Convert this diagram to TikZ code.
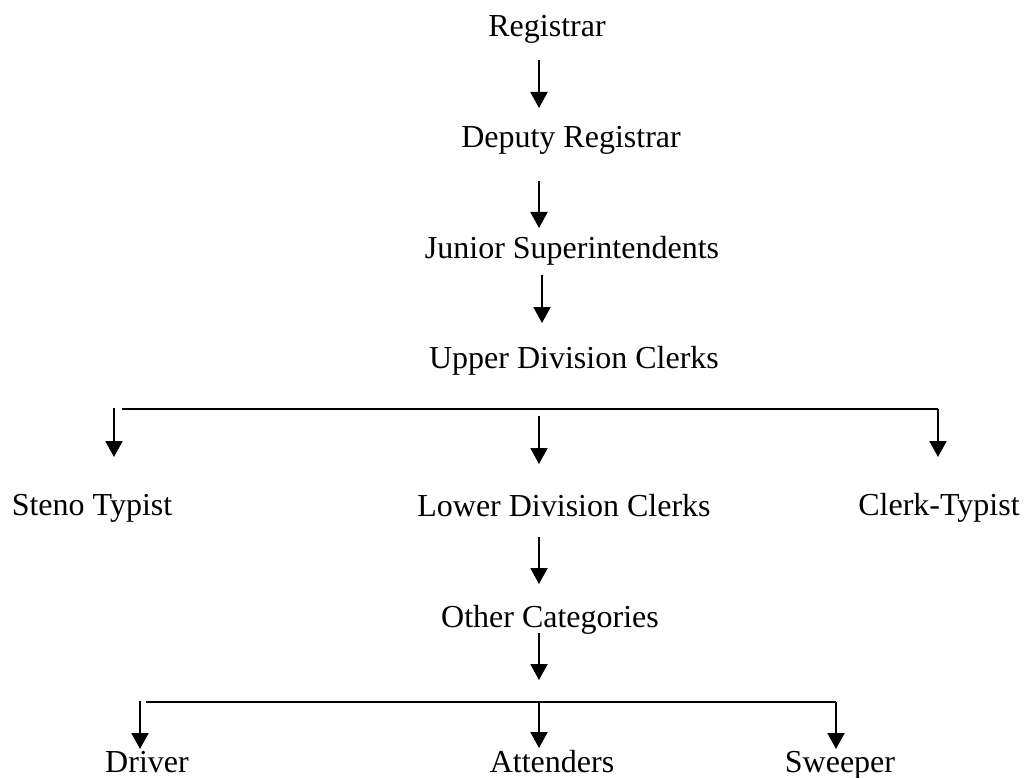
\documentclass[tikz,border=0pt]{standalone}
\usepackage{fontspec}
\setmainfont{Liberation Serif}
\usetikzlibrary{arrows.meta}
\tikzset{
  lbl/.style={anchor=base, inner sep=0pt, font=\fontsize{32}{38}\selectfont},
  arr/.style={line width=2pt, -{Triangle[width=17pt,length=16pt]}},
  bar/.style={line width=1.1pt},
}
\begin{document}
\begin{tikzpicture}[x=1pt,y=-1pt]
\useasboundingbox (0,0) rectangle (1025,778);
% labels
\node[lbl] (reg) at (547,37) {Registrar};
\node[lbl] (dep) at (571,148) {Deputy Registrar};
\node[lbl] (jun) at (572,258) {Junior Superintendents};
\node[lbl] (udc) at (574,368) {Upper Division Clerks};
\node[lbl] (ste) at (92,515) {Steno Typist};
\node[lbl] (ldc) at (564,516) {Lower Division Clerks};
\node[lbl] (clt) at (939,515) {Clerk-Typist};
\node[lbl] (oth) at (550,627) {Other Categories};
\node[lbl] (drv) at (147,772) {Driver};
\node[lbl] (att) at (552,772) {Attenders};
\node[lbl] (swp) at (840,772) {Sweeper};
% connector coordinates
\coordinate (r1) at (539,60);  \coordinate (d1) at (539,108);
\coordinate (r2) at (539,181); \coordinate (d2) at (539,228);
\coordinate (r3) at (542,275); \coordinate (d3) at (542,323);
\coordinate (h1l) at (122,409); \coordinate (h1r) at (938,409);
\coordinate (s1) at (114,408); \coordinate (e1) at (114,457);
\coordinate (s2) at (539,416); \coordinate (e2) at (539,464);
\coordinate (e3) at (938,457);
\coordinate (r4) at (539,537); \coordinate (d4) at (539,584);
\coordinate (r5) at (539,633); \coordinate (d5) at (539,680);
\coordinate (h2l) at (146,702); \coordinate (h2r) at (836,702);
\coordinate (s4) at (140,701); \coordinate (e4) at (140,749);
\coordinate (s5) at (539,701); \coordinate (e5) at (539,748);
\coordinate (e6) at (836,749);
% connectors
\draw[arr] (r1) -- (d1);
\draw[arr] (r2) -- (d2);
\draw[arr] (r3) -- (d3);
\draw[bar] (h1l) -- (h1r);
\draw[arr] (s1) -- (e1);
\draw[arr] (s2) -- (e2);
\draw[arr] (h1r) -- (e3);
\draw[arr] (r4) -- (d4);
\draw[arr] (r5) -- (d5);
\draw[bar] (h2l) -- (h2r);
\draw[arr] (s4) -- (e4);
\draw[arr] (s5) -- (e5);
\draw[arr] (h2r) -- (e6);
\end{tikzpicture}
\end{document}
